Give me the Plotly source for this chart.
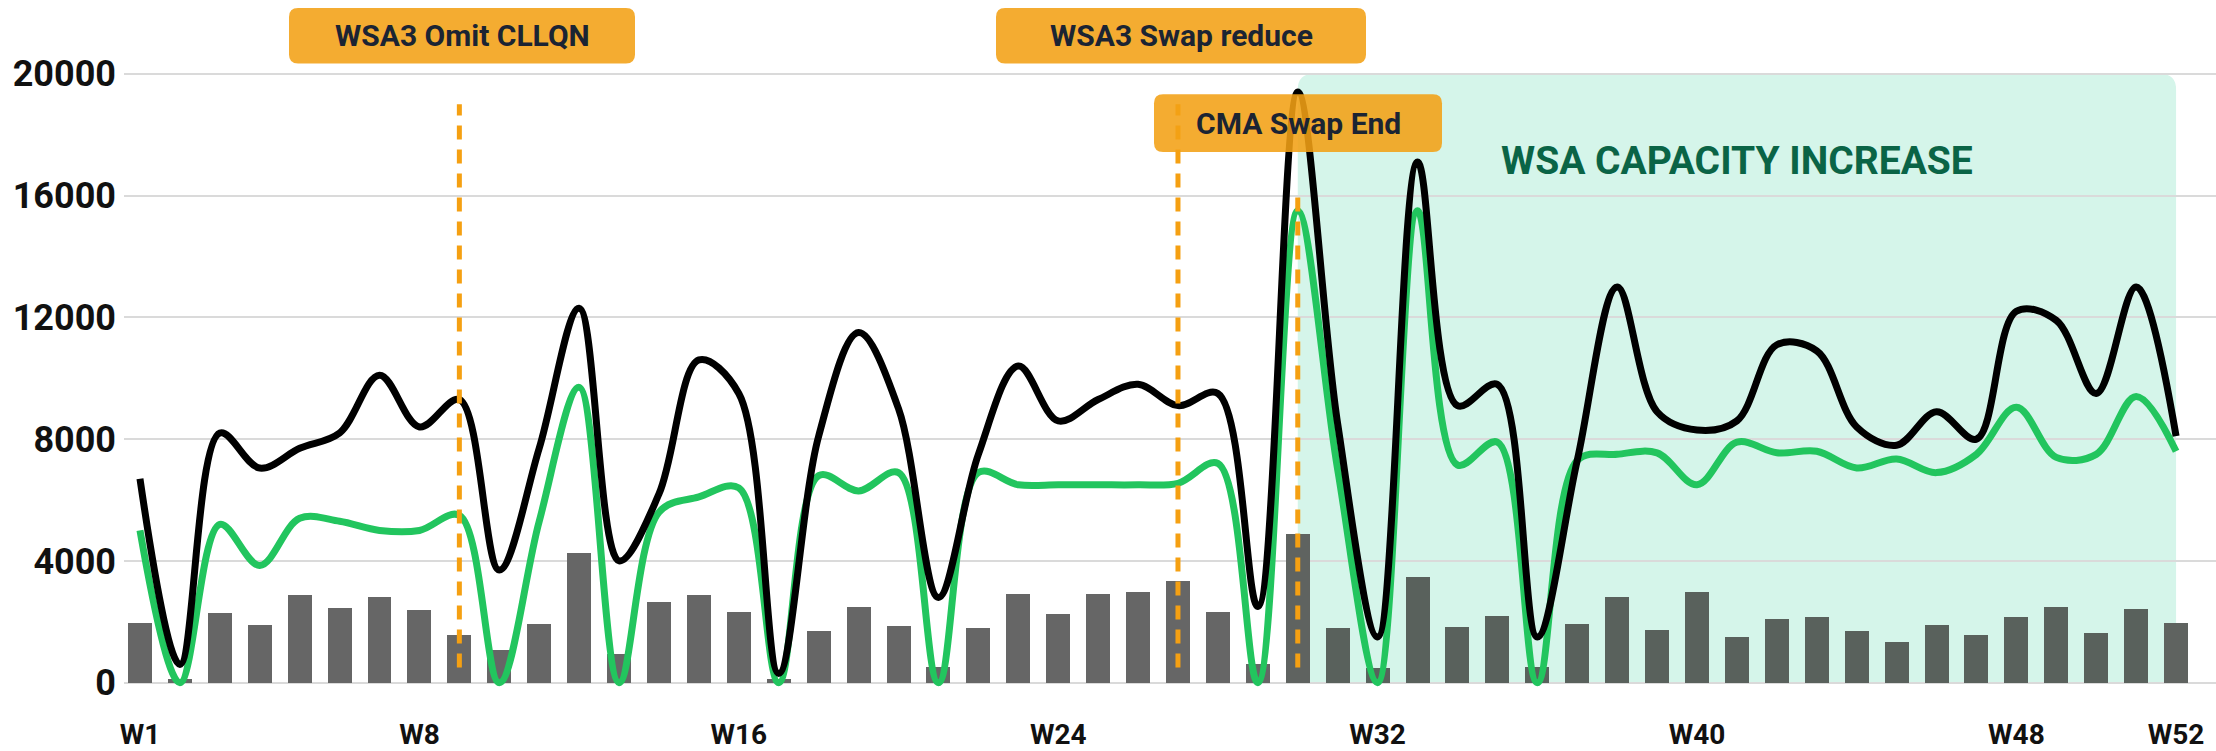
import plotly.graph_objects as go

# ---------------- data ----------------
weeks = [f"W{i}" for i in range(1, 53)]
tick_labels = ["W1", "W8", "W16", "W24", "W32", "W40", "W48", "W52"]

bar_values = [1950, 120, 2280, 1880, 2870, 2440, 2810, 2390, 1570, 1080, 1920, 4250, 940, 2640,
              2880, 2310, 110, 1700, 2470, 1870, 510, 1800, 2900, 2250, 2910, 2970, 3340, 2310,
              610, 4870, 1800, 470, 3470, 1830, 2200, 530, 1930, 2830, 1730, 2970, 1500, 2100,
              2150, 1700, 1330, 1890, 1570, 2160, 2470, 1640, 2430, 1950]

black_values = [6700, 600, 8200, 7050, 7700, 8200, 10100, 8400, 9300, 3700, 7700, 12300, 4000, 6200,
                10600, 9500, 300, 8100, 11500, 9000, 2800, 7500, 10400, 8600, 9300, 9800, 9100, 9500,
                2500, 19400, 8500, 1500, 17100, 9100, 9800, 1500, 7300, 13000, 8900, 8300, 8600, 11100,
                10900, 8400, 7800, 8900, 8000, 12200, 11900, 9500, 13000, 8100]

green_values = [5000, 0, 5200, 3850, 5400, 5300, 5000, 5000, 5500, 0, 5300, 9700, 0, 5600,
                6100, 6400, 0, 6800, 6300, 6900, 0, 6900, 6500, 6500, 6500, 6500, 6550, 7200,
                0, 15500, 7000, 0, 15500, 7150, 7900, 0, 7300, 7500, 7550, 6500, 7900, 7550,
                7600, 7050, 7350, 6900, 7500, 9050, 7400, 7500, 9400, 7600]

events = [("WSA3 Omit CLLQN", "W9", 500, 19000),
          ("WSA3 Swap reduce", "W27", 500, 19000),
          ("CMA Swap End", "W30", 500, 16200)]
capacity_start, capacity_end = "W30", "W52"
capacity_label = "WSA CAPACITY INCREASE"

# ---------------- geometry ----------------
W, H = 2216, 751
ML, MR, MT, MB = 124, 0, 0, 40
PW, PH = W - ML - MR, H - MT - MB
YMIN, YMAX = -766, 22424

x = list(range(len(weeks)))
pos = {w: i for i, w in enumerate(weeks)}


def px_x(p):
    return (p - ML) / PW


def px_y(p):
    return (H - MB - p) / PH


def rrect_paper(x0, y0, x1, y1, r):
    # pixel box (top-left origin) -> rounded path in paper coordinates
    X0, X1 = px_x(x0), px_x(x1)
    Y0, Y1 = px_y(y1), px_y(y0)  # Y0 bottom, Y1 top
    rx, ry = r / PW, r / PH
    return (f"M {X0+rx},{Y0} L {X1-rx},{Y0} Q {X1},{Y0} {X1},{Y0+ry} "
            f"L {X1},{Y1-ry} Q {X1},{Y1} {X1-rx},{Y1} L {X0+rx},{Y1} "
            f"Q {X0},{Y1} {X0},{Y1-ry} L {X0},{Y0+ry} Q {X0},{Y0} {X0+rx},{Y0} Z")


cs, ce = pos[capacity_start], pos[capacity_end]
bar_colors = []
for i in x:
    if cs < i < ce:
        bar_colors.append("#59615c")
    elif i in (cs, ce):
        bar_colors.append("#5f6360")
    else:
        bar_colors.append("#666666")

fig = go.Figure()
fig.add_trace(go.Bar(x=x, y=bar_values, marker=dict(color=bar_colors, line=dict(width=0)),
                     width=0.6, hoverinfo="skip"))
fig.add_trace(go.Scatter(x=x, y=green_values, mode="lines",
                         line=dict(color="#22c55e", width=7, shape="spline", smoothing=1.0)))
fig.add_trace(go.Scatter(x=x, y=black_values, mode="lines",
                         line=dict(color="#000000", width=7, shape="spline", smoothing=1.0)))

shapes = []
# mint capacity region (rounded), below gridlines
rx, ry = 0.4, 520
x0r, x1r, y1r = cs, ce, 20000
shapes.append(dict(type="path", xref="x", yref="y", layer="below",
                   path=(f"M {x0r},0 L {x0r},{y1r-ry} Q {x0r},{y1r} {x0r+rx},{y1r} "
                         f"L {x1r-rx},{y1r} Q {x1r},{y1r} {x1r},{y1r-ry} "
                         f"L {x1r},{ry} Q {x1r},0 {x1r-rx},0 Z"),
                   fillcolor="#d5f5ea", line=dict(width=0)))
# dashed event lines
for label, wk, ylo, yhi in events:
    shapes.append(dict(type="line", xref="x", yref="y", layer="above",
                       x0=pos[wk], x1=pos[wk], y0=ylo, y1=yhi,
                       line=dict(color="#f5a012", width=5, dash="14px,10px")))

# label boxes (pixel placement)
boxes = [(289, 8, 635, 64), (996, 8, 1366, 64), (1154, 95, 1442, 153)]
annotations = []
for (label, wk, ylo, yhi), (bx0, by0, bx1, by1) in zip(events, boxes):
    shapes.append(dict(type="path", xref="paper", yref="paper", layer="above",
                       path=rrect_paper(bx0, by0, bx1, by1, 9),
                       fillcolor="rgba(242,160,20,0.88)", line=dict(width=0)))
    annotations.append(dict(xref="paper", yref="paper", x=px_x((bx0 + bx1) / 2),
                            y=px_y((by0 + by1) / 2), text=label, showarrow=False,
                            xanchor="center", yanchor="middle",
                            font=dict(family="Roboto", size=30, color="#1b2433", weight=700)))

annotations.append(dict(xref="x", yref="y", x=40, y=17150, text=capacity_label, showarrow=False,
                        xanchor="center", yanchor="middle",
                        font=dict(family="Roboto", size=39, color="#0a6446", weight=700)))

fig.update_layout(
    width=W, height=H,
    margin=dict(l=ML, r=MR, t=MT, b=MB, pad=0),
    paper_bgcolor="white", plot_bgcolor="rgba(0,0,0,0)",
    showlegend=False, bargap=0,
    font=dict(family="Roboto", color="#111111"),
    shapes=shapes, annotations=annotations,
)
fig.update_xaxes(range=[-0.4, 52.0], tickmode="array",
                 tickvals=[pos[t] for t in tick_labels], ticktext=tick_labels,
                 showgrid=False, zeroline=False, showline=False, ticks="",
                 tickfont=dict(family="Roboto", size=28, color="#111111", weight=700),
                 ticklabelstandoff=9)
fig.update_yaxes(range=[YMIN, YMAX], tickmode="linear", tick0=0, dtick=4000, tickformat="d",
                 showgrid=True, gridcolor="#dadada", gridwidth=2.4,
                 zeroline=False, showline=False, ticks="",
                 tickfont=dict(family="Roboto", size=36, color="#111111", weight=700),
                 ticklabelstandoff=7)

fig.write_html("out.html", config={"displayModeBar": False},
               post_script="document.body.style.margin='0';document.body.style.overflow='hidden';")
